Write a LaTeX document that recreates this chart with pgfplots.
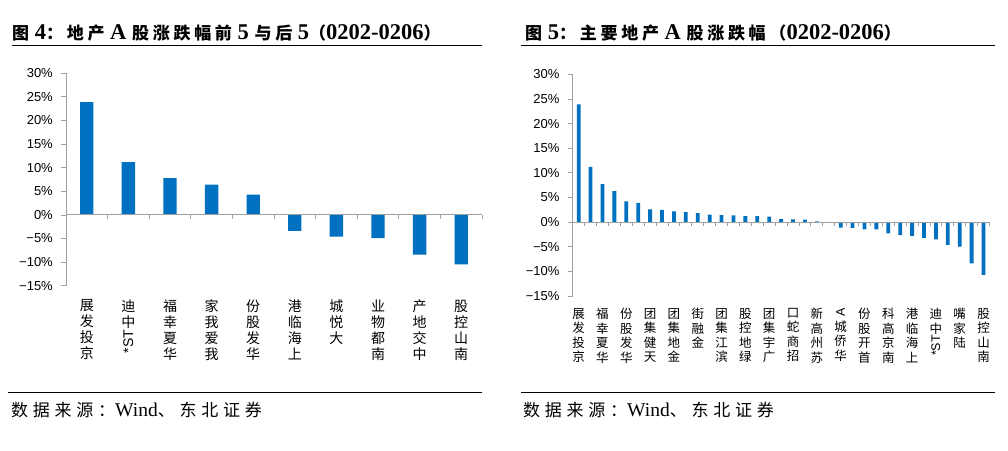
\documentclass[border=0pt]{standalone}
\usepackage{fontspec}
\usepackage{graphicx}
\usepackage{pgfplots}
\pgfplotsset{compat=1.18}
\setmainfont{Liberation Serif}
\newfontfamily\cjk{Noto Sans CJK SC}
\newfontfamily\cjkt[LetterSpace=22]{Noto Sans CJK SC}
\newfontfamily\cjkf[LetterSpace=28]{Noto Sans CJK SC}
\newfontfamily\arial{Liberation Sans}
\definecolor{barblue}{RGB}{0,112,192}
\definecolor{axgray}{RGB}{160,160,160}

% title / source pieces
\newcommand{\tz}[1]{{\cjkt\fontsize{17}{17}\selectfont #1}}
\newcommand{\fz}[1]{{\cjkf\fontsize{17}{17}\selectfont #1}}

\pgfplotsset{
  common/.style={
    scale only axis,
    ymin=-15, ymax=30,
    ytick={-15,-10,-5,0,5,10,15,20,25,30},
    yticklabels={−15\%,−10\%,−5\%,0\%,5\%,10\%,15\%,20\%,25\%,30\%},
    yticklabel style={font=\arial\fontsize{13}{13}\selectfont, inner sep=0pt, xshift=-8pt},
    axis y line*=left,
    axis x line*=bottom,
    x axis line style={draw=none},
    y axis line style={axgray, line width=0.8pt},
    tick align=outside,
    major tick length=5pt,
    ytick style={axgray, line width=0.8pt},
    xtick style={draw=none},
    xticklabel style={anchor=north, align=center, inner sep=0pt},
  },
  zeroline/.style={
    scale only axis,
    ymin=-15, ymax=30,
    axis y line=none,
    axis x line*=middle,
    x axis line style={axgray, line width=0.8pt},
    xtick style={axgray, line width=0.8pt},
    tick align=outside,
    major tick length=4pt,
    xticklabels={}, ytick=\empty,
  },
}

\begin{document}
\begin{tikzpicture}[x=1pt,y=1pt]
\useasboundingbox (0,0) rectangle (1008,450);

% ---------- titles ----------
\node[anchor=base west, inner sep=0pt, font=\bfseries\fontsize{22.5}{22.5}\selectfont] at (12,410.5)
  {\tz{图} 4\tz{：地产} A \tz{股涨跌幅前} 5 \tz{与后} 5\tz{（}0202-0206\tz{）}};
\draw[line width=1.2pt] (12,404.5) -- (482,404.5);
\node[anchor=base west, inner sep=0pt, font=\bfseries\fontsize{22.5}{22.5}\selectfont] at (525,410.5)
  {\tz{图} 5\tz{：主要地产} A \tz{股涨跌幅（}0202-0206\tz{）}};
\draw[line width=1.2pt] (521,404.5) -- (995,404.5);

% ---------- sources ----------
\draw[line width=1pt] (8,57.5) -- (482,57.5);
\draw[line width=1pt] (521,57.5) -- (995,57.5);
\node[anchor=base west, inner sep=0pt, font=\fontsize{19.5}{19.5}\selectfont] at (11,34)
  {\fz{数据来源：}Wind\fz{、东北证券}};
\node[anchor=base west, inner sep=0pt, font=\fontsize{19.5}{19.5}\selectfont] at (523,34)
  {\fz{数据来源：}Wind\fz{、东北证券}};

% ---------- left chart ----------
\begin{axis}[common,
  at={(66pt,164.3pt)}, anchor=south west,
  width=416pt, height=212.4pt,
  xmin=0.5, xmax=10.5,
  xtick={1,2,3,4,5,6,7,8,9,10},
  xticklabel style={font=\cjk\fontsize{14}{16}\selectfont, yshift=-9pt},
  xticklabels={
    {展\\发\\投\\京},
    {迪\\中\\\rotatebox{90}{\arial *ST}},
    {福\\幸\\夏\\华},
    {家\\我\\爱\\我},
    {份\\股\\发\\华},
    {港\\临\\海\\上},
    {城\\悦\\大},
    {业\\物\\都\\南},
    {产\\地\\交\\中},
    {股\\控\\山\\南}},
]
\addplot[ybar, fill=barblue, draw=none, bar width=0.32] coordinates {
  (1,23.9) (2,11.2) (3,7.8) (4,6.4) (5,4.3)
  (6,-3.4) (7,-4.6) (8,-4.9) (9,-8.4) (10,-10.5)
};
\end{axis}
\begin{axis}[zeroline,
  at={(66pt,164.3pt)}, anchor=south west,
  width=416pt, height=212.4pt,
  xmin=0.5, xmax=10.5,
  xtick={0.5,1.5,...,10.5},
]
\end{axis}

% ---------- right chart ----------
\begin{axis}[common,
  at={(572.7pt,154pt)}, anchor=south west,
  width=416.8pt, height=221.7pt,
  xmin=0.5, xmax=35.5,
  xtick={1,3,...,35},
  xticklabel style={font=\cjk\fontsize{12.5}{14.5}\selectfont, yshift=-7pt},
  xticklabels={
    {展\\发\\投\\京},
    {福\\幸\\夏\\华},
    {份\\股\\发\\华},
    {团\\集\\健\\天},
    {团\\集\\地\\金},
    {街\\融\\金},
    {团\\集\\江\\滨},
    {股\\控\\地\\绿},
    {团\\集\\宇\\广},
    {口\\蛇\\商\\招},
    {新\\高\\州\\苏},
    {\rotatebox{90}{\arial A}\\城\\侨\\华},
    {份\\股\\开\\首},
    {科\\高\\京\\南},
    {港\\临\\海\\上},
    {迪\\中\\\rotatebox{90}{\arial *ST}},
    {嘴\\家\\陆},
    {股\\控\\山\\南}},
]
\addplot[ybar, fill=barblue, draw=none, bar width=0.32] coordinates {
  (1,23.9) (2,11.2) (3,7.7) (4,6.3) (5,4.2) (6,3.9) (7,2.6)
  (8,2.5) (9,2.2) (10,2.0) (11,1.8) (12,1.5) (13,1.4) (14,1.35)
  (15,1.2) (16,1.2) (17,1.1) (18,0.6) (19,0.55) (20,0.5) (21,0.15)
  (22,-0.15) (23,-1.1) (24,-1.15) (25,-1.5) (26,-1.5) (27,-2.3) (28,-2.65)
  (29,-2.8) (30,-3.2) (31,-3.5) (32,-4.6) (33,-5.0) (34,-8.4) (35,-10.7)
};
\end{axis}
\begin{axis}[zeroline,
  at={(572.7pt,154pt)}, anchor=south west,
  width=416.8pt, height=221.7pt,
  xmin=0.5, xmax=35.5,
  xtick={0.5,1.5,...,35.5},
]
\end{axis}
\end{tikzpicture}
\end{document}
